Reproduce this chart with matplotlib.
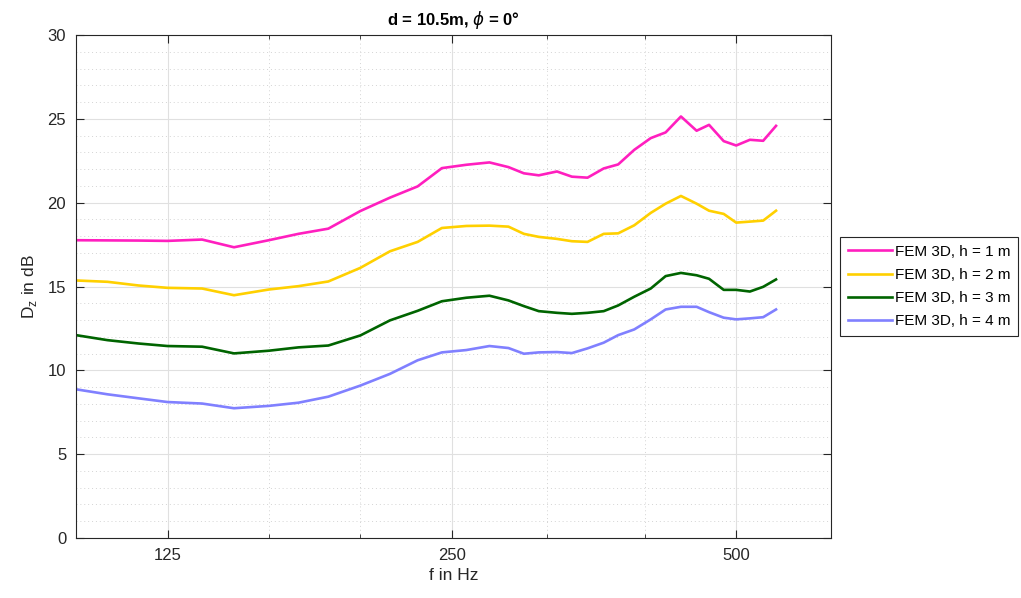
import numpy as np
import matplotlib
matplotlib.use("Agg")
import matplotlib.pyplot as plt
from matplotlib.ticker import FixedLocator, NullFormatter, FixedFormatter

plt.rcParams['font.family'] = ['Liberation Sans', 'DejaVu Sans']

# Frequenzen (Hz)
freq = [100, 108, 116.5, 125, 136, 147, 160, 172, 185, 200, 215, 230, 244, 259,
        274, 287, 298, 309, 323, 335, 348, 362, 375, 390, 406, 421, 437, 454,
        468, 485, 500, 517, 534, 551]

# D_z in dB fuer die vier Hoehen
dz_h1 = [17.76, 17.75, 17.74, 17.72, 17.80, 17.34, 17.76, 18.14, 18.45, 19.50,
         20.30, 20.97, 22.06, 22.26, 22.40, 22.12, 21.75, 21.63, 21.86, 21.55,
         21.49, 22.04, 22.28, 23.15, 23.85, 24.19, 25.14, 24.29, 24.64, 23.67,
         23.41, 23.75, 23.69, 24.58]
dz_h2 = [15.36, 15.28, 15.06, 14.92, 14.88, 14.48, 14.82, 15.02, 15.30, 16.11,
         17.10, 17.66, 18.49, 18.61, 18.63, 18.57, 18.14, 17.96, 17.84, 17.70,
         17.66, 18.14, 18.17, 18.65, 19.39, 19.94, 20.40, 19.94, 19.52, 19.33,
         18.81, 18.87, 18.93, 19.52]
dz_h3 = [12.10, 11.80, 11.60, 11.45, 11.41, 11.01, 11.17, 11.37, 11.48, 12.08,
         12.98, 13.55, 14.12, 14.33, 14.45, 14.17, 13.83, 13.53, 13.43, 13.37,
         13.43, 13.53, 13.87, 14.39, 14.88, 15.62, 15.81, 15.67, 15.46, 14.80,
         14.80, 14.70, 14.98, 15.42]
dz_h4 = [8.87, 8.57, 8.33, 8.11, 8.02, 7.74, 7.88, 8.07, 8.43, 9.09,
         9.79, 10.60, 11.07, 11.21, 11.45, 11.33, 10.99, 11.07, 11.09, 11.03,
         11.31, 11.65, 12.10, 12.44, 13.04, 13.63, 13.79, 13.79, 13.47, 13.14,
         13.04, 13.10, 13.17, 13.63]

labels = ["FEM 3D, h = 1 m", "FEM 3D, h = 2 m", "FEM 3D, h = 3 m", "FEM 3D, h = 4 m"]
colors = ["#ff1fbf", "#ffd000", "#006400", "#8080ff"]

major_ticks = [125, 250, 500]
minor_ticks = [100, 160, 200, 315, 400, 630]

fig = plt.figure(figsize=(10.21, 5.98), dpi=100)
ax = fig.add_axes([0.0744, 0.1003, 0.7395, 0.8412])

for y, lab, c in zip([dz_h1, dz_h2, dz_h3, dz_h4], labels, colors):
    ax.plot(freq, y, color=c, linewidth=1.9, label=lab)

ax.set_xscale("log")
ax.set_xlim(100, 630)
ax.set_ylim(0, 30)

ax.xaxis.set_major_locator(FixedLocator(major_ticks))
ax.xaxis.set_major_formatter(FixedFormatter([str(t) for t in major_ticks]))
ax.xaxis.set_minor_locator(FixedLocator(minor_ticks))
ax.xaxis.set_minor_formatter(NullFormatter())
ax.set_yticks(np.arange(0, 31, 5))
ax.set_yticks(np.arange(0, 31, 1), minor=True)

tc = "#262626"
ax.tick_params(which="major", direction="in", length=6, width=0.8, top=True, right=True,
               colors=tc, labelsize=12, pad=7)
ax.tick_params(axis="x", which="minor", direction="in", length=3, width=0.6, top=True, colors=tc)
ax.tick_params(axis="y", which="minor", length=0, right=True)
for s in ax.spines.values():
    s.set_color(tc)
    s.set_linewidth(0.8)

ax.grid(True, which="major", color="#e0e0e0", linestyle="-", linewidth=0.8)
ax.grid(True, which="minor", color="#d4d4d4", linestyle=(0, (1, 3)), linewidth=0.7)
ax.set_axisbelow(True)

ax.set_xlabel("f in Hz", fontsize=12.5, color=tc, labelpad=4)
ax.set_ylabel(r"D$_\mathregular{z}$ in dB", fontsize=12.5, color=tc, labelpad=6)
ax.set_title(r"d = 10.5m, $\phi$ = 0°", fontsize=12, fontweight="bold", color="black", pad=7)

leg = ax.legend(loc="center left", bbox_to_anchor=(1.012, 0.5), fontsize=11,
                fancybox=False, framealpha=1, edgecolor=tc, handlelength=2.9,
                handletextpad=0.2, borderpad=0.5, labelspacing=0.6, borderaxespad=0)
leg.get_frame().set_linewidth(0.8)

fig.savefig("out.png", dpi=100)
